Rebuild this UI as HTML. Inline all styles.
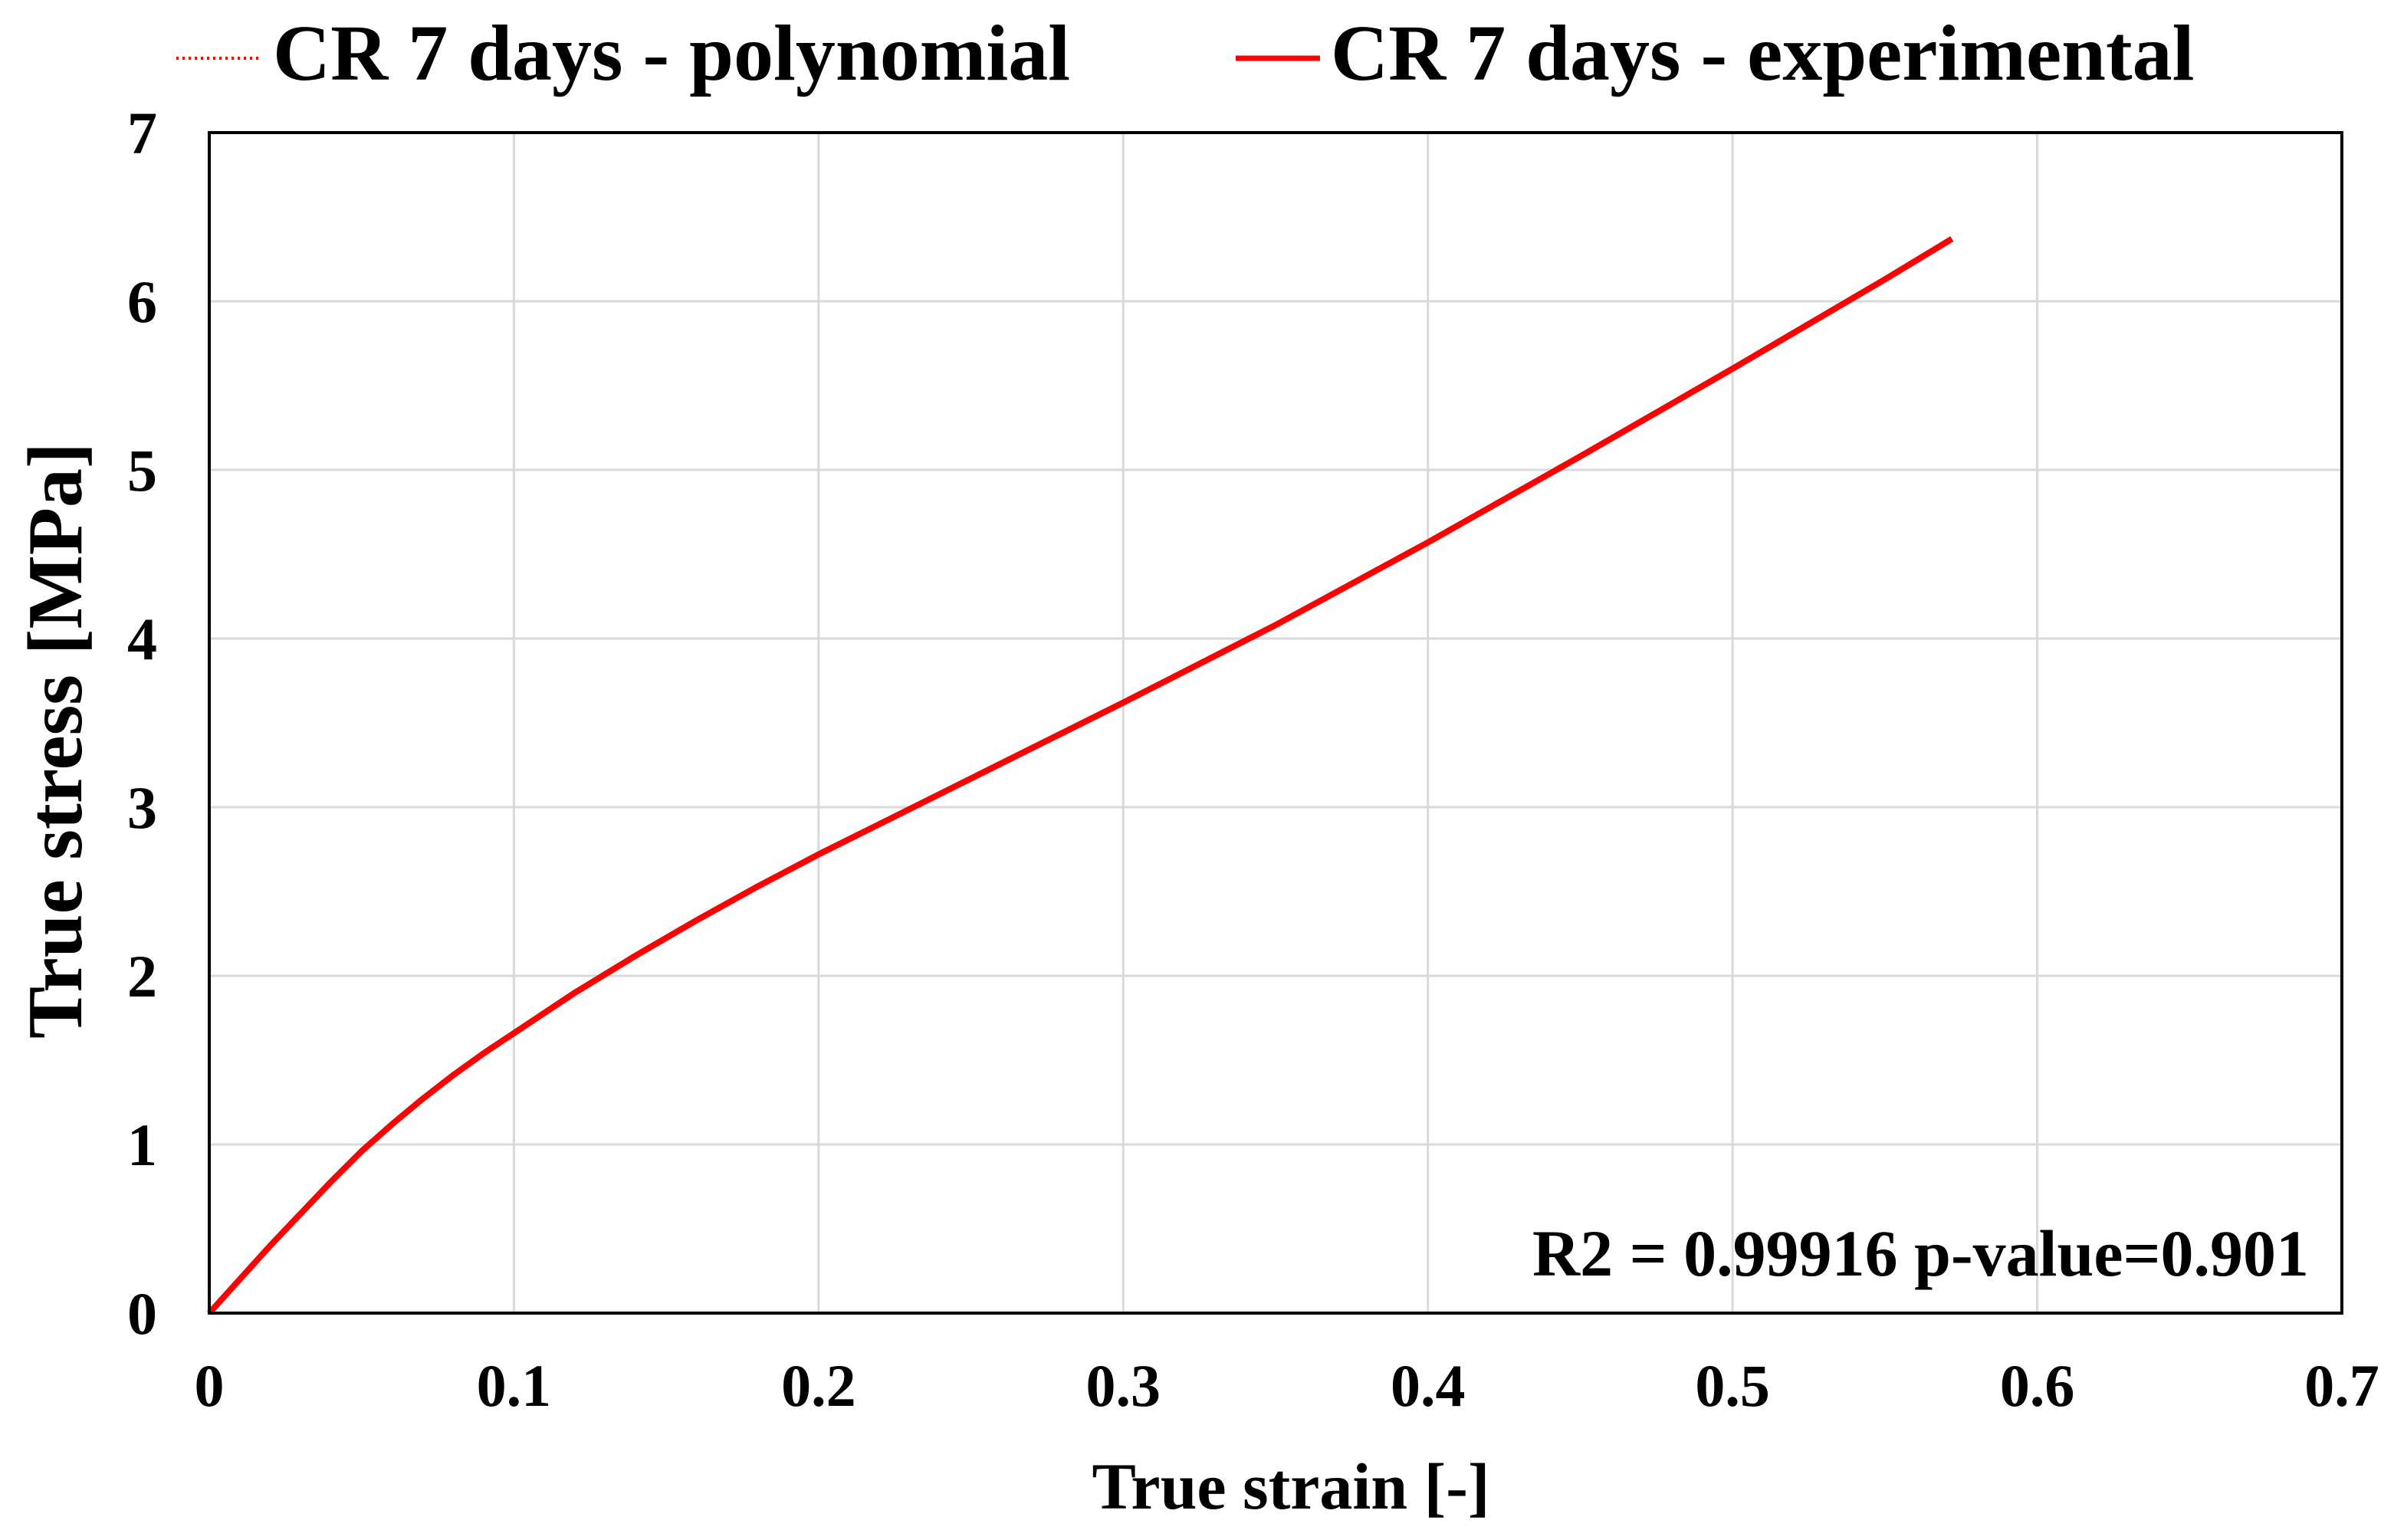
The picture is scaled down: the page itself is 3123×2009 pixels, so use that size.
<!DOCTYPE html>
<html><head><meta charset="utf-8"><style>
html,body{margin:0;padding:0;background:#fff;}
svg text{font-family:"Liberation Serif",serif;font-weight:bold;fill:#000;}
</style></head><body>
<svg id="chart" width="3123" height="2004" viewBox="0 0 3123 2004" xmlns="http://www.w3.org/2000/svg">
<g id="grid"></g>
<g id="curves"></g>
<rect x="273" y="173" width="2782" height="1540" fill="none" stroke="#000" stroke-width="4"/>
<g id="ticks"></g>
<g>
<line x1="230" y1="76" x2="340" y2="76" stroke="#f00" stroke-width="4" stroke-dasharray="3,5"/>
<text x="356" y="104" font-size="104">CR 7 days - polynomial</text>
<line x1="1612" y1="76" x2="1722" y2="76" stroke="#f00" stroke-width="7"/>
<text x="1736" y="104" font-size="104">CR 7 days - experimental</text>
</g>
<text transform="translate(106,966) rotate(-90)" text-anchor="middle" font-size="102">True stress [MPa]</text>
<text x="1684" y="1968" text-anchor="middle" font-size="86">True strain [-]</text>
<text x="3012" y="1664" text-anchor="end" font-size="86">R2 = 0.99916 p-value=0.901</text>
</svg>
<script>
const strainVals=[0,0.01,0.02,0.03,0.04,0.05,0.06,0.07,0.08,0.09,0.1,0.12,0.14,0.16,0.18,0.2,0.25,0.3,0.35,0.4,0.45,0.5,0.55,0.572];
const stressVals=[0,0.2,0.4,0.59,0.78,0.96,1.12,1.27,1.41,1.54,1.66,1.90,2.12,2.33,2.53,2.72,3.17,3.62,4.08,4.57,5.08,5.6,6.13,6.37];
const xTicks=["0","0.1","0.2","0.3","0.4","0.5","0.6","0.7"];
const yTicks=["0","1","2","3","4","5","6","7"];
const NS="http://www.w3.org/2000/svg";
const L=273,R=3055,T=173,B=1713;
const sx=v=>L+(v/0.7)*(R-L);
const sy=v=>B-(v/7)*(B-T);
const grid=document.getElementById('grid'),ticks=document.getElementById('ticks'),curves=document.getElementById('curves');
xTicks.forEach(t=>{const v=parseFloat(t);
 if(v>0&&v<0.7){const l=document.createElementNS(NS,'line');
 
 
 l.setAttribute('x1',sx(v));l.setAttribute('x2',sx(v));l.setAttribute('y1',T);l.setAttribute('y2',B);l.setAttribute('stroke','#d9d9d9');l.setAttribute('stroke-width','3');grid.appendChild(l);}
 const tx=document.createElementNS(NS,'text');
 
 
 tx.setAttribute('x',sx(v));tx.setAttribute('y',1834);tx.setAttribute('text-anchor','middle');tx.setAttribute('font-size','78');tx.textContent=t;ticks.appendChild(tx);});
yTicks.forEach(t=>{const v=parseFloat(t);
 if(v>0&&v<7){const l=document.createElementNS(NS,'line');
 
 
 l.setAttribute('x1',L);l.setAttribute('x2',R);l.setAttribute('y1',sy(v));l.setAttribute('y2',sy(v));l.setAttribute('stroke','#d9d9d9');l.setAttribute('stroke-width','3');grid.appendChild(l);}
 const tx=document.createElementNS(NS,'text');
 
 
 tx.setAttribute('x',205);tx.setAttribute('y',sy(v)+27);tx.setAttribute('text-anchor','end');tx.setAttribute('font-size','78');tx.textContent=t;ticks.appendChild(tx);});
const d=strainVals.map((x,i)=>(i?'L':'M')+sx(x).toFixed(1)+','+sy(stressVals[i]).toFixed(1)).join(' ');
const p1=document.createElementNS(NS,'path');


p1.setAttribute('d',d);p1.setAttribute('fill','none');p1.setAttribute('stroke','#f00');p1.setAttribute('stroke-width','8');p1.setAttribute('stroke-linejoin','round');curves.appendChild(p1);
const p2=document.createElementNS(NS,'path');


p2.setAttribute('d',d);p2.setAttribute('fill','none');p2.setAttribute('stroke','#f00');p2.setAttribute('stroke-width','4');p2.setAttribute('stroke-dasharray','3,5');curves.appendChild(p2);
</script>
</body></html>
